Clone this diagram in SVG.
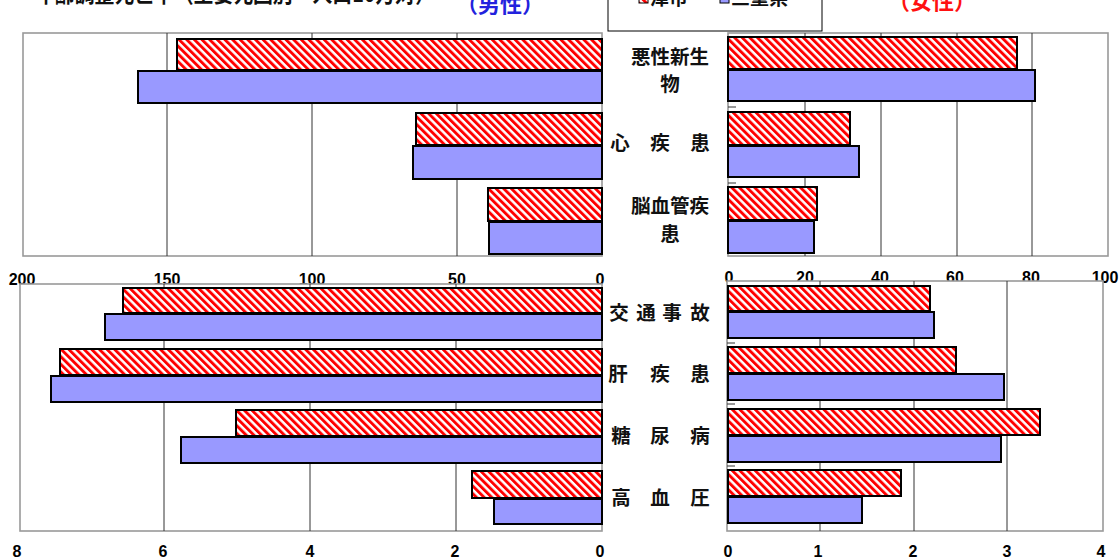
<svg xmlns="http://www.w3.org/2000/svg" width="1120" height="560" viewBox="0 0 1120 560">
<defs>
<pattern id="hatch" patternUnits="userSpaceOnUse" width="5.4" height="5.4" patternTransform="rotate(-45)">
<rect width="5.4" height="5.4" fill="#ffffff"/>
<rect width="2.9" height="5.4" fill="#ff0000"/>
</pattern>
</defs>
<style>
.frame{fill:#ffffff;stroke:#999999;stroke-width:1.6}
.grid{stroke:#333333;stroke-width:1}
.tick{stroke:#333333;stroke-width:1}
.red{fill:url(#hatch);stroke:#000000;stroke-width:2}
.blue{fill:#9999ff;stroke:#000000;stroke-width:2}
.num{font-family:"Liberation Sans",Arial,sans-serif;font-weight:bold;font-size:16px;fill:#000000;text-anchor:middle}
.cat{font-family:"Noto Sans CJK JP","Noto Sans CJK SC",sans-serif;font-weight:bold;font-size:19.5px;fill:#111111;text-anchor:middle}
.lg{font-family:"Noto Sans CJK JP",sans-serif;font-weight:bold;font-size:19px;fill:#111111}
</style>

<g id="title">
<text x="35" y="2" font-family="Noto Sans CJK JP, sans-serif" font-weight="bold" font-size="24" fill="#111111" textLength="400" lengthAdjust="spacingAndGlyphs">年齢調整死亡率（主要死因別・人口10万対）</text>
<text x="456" y="12" font-family="Noto Sans CJK JP, sans-serif" font-weight="bold" font-size="22" fill="#2222dd">（男性）</text>
<text x="888" y="9" font-family="Noto Sans CJK JP, sans-serif" font-weight="bold" font-size="22" fill="#ff1111">（女性）</text>
</g>

<g id="legend">
<rect x="608" y="-30" width="214" height="61" fill="#ffffff" stroke="#000000" stroke-width="1"/>
<rect x="639" y="-6" width="9" height="9" fill="url(#hatch)" stroke="#000" stroke-width="1"/>
<text class="lg" x="650" y="5">津市</text>
<rect x="720" y="-6" width="9" height="9" fill="#9999ff" stroke="#000" stroke-width="1"/>
<text class="lg" x="731" y="5">三重県</text>
</g>

<g id="chart-top-left">
<rect class="frame" x="23" y="33" width="579" height="223"/>
<line class="grid" x1="167" y1="33" x2="167" y2="256"/>
<line class="grid" x1="312" y1="33" x2="312" y2="256"/>
<line class="grid" x1="457" y1="33" x2="457" y2="256"/>
<rect class="red" x="177" y="39" width="425" height="31"/>
<rect class="blue" x="138" y="71" width="464" height="32"/>
<rect class="red" x="416" y="113" width="186" height="32"/>
<rect class="blue" x="413" y="146" width="189" height="33"/>
<rect class="red" x="488" y="188" width="114" height="33"/>
<rect class="blue" x="489" y="222" width="113" height="32"/>
<text class="num" x="22" y="285">200</text>
<text class="num" x="167" y="285">150</text>
<text class="num" x="312" y="285">100</text>
<text class="num" x="457" y="285">50</text>
<text class="num" x="600" y="285">0</text>
</g>

<g id="chart-top-right">
<rect class="frame" x="728" y="33" width="380" height="223"/>
<line class="grid" x1="805" y1="33" x2="805" y2="256"/>
<line class="grid" x1="881" y1="33" x2="881" y2="256"/>
<line class="grid" x1="957" y1="33" x2="957" y2="256"/>
<line class="grid" x1="1032" y1="33" x2="1032" y2="256"/>
<line class="tick" x1="728" y1="107" x2="736" y2="107"/>
<line class="tick" x1="728" y1="183" x2="736" y2="183"/>
<rect class="red" x="728" y="37" width="289" height="32"/>
<rect class="blue" x="728" y="70" width="307" height="31"/>
<rect class="red" x="728" y="112" width="122" height="33"/>
<rect class="blue" x="728" y="146" width="131" height="31"/>
<rect class="red" x="728" y="187" width="89" height="33"/>
<rect class="blue" x="728" y="221" width="86" height="32"/>
<text class="num" x="729" y="283">0</text>
<text class="num" x="805" y="283">20</text>
<text class="num" x="880" y="283">40</text>
<text class="num" x="955" y="283">60</text>
<text class="num" x="1031" y="283">80</text>
<text class="num" x="1105" y="283">100</text>
</g>

<g id="chart-bottom-left">
<rect class="frame" x="20" y="284" width="582" height="247"/>
<line class="grid" x1="164" y1="284" x2="164" y2="531"/>
<line class="grid" x1="310" y1="284" x2="310" y2="531"/>
<line class="grid" x1="456" y1="284" x2="456" y2="531"/>
<rect class="red" x="123" y="288" width="479" height="25"/>
<rect class="blue" x="105" y="314" width="497" height="26"/>
<rect class="red" x="60" y="349" width="542" height="26"/>
<rect class="blue" x="51" y="376" width="551" height="26"/>
<rect class="red" x="236" y="410" width="366" height="26"/>
<rect class="blue" x="181" y="437" width="421" height="26"/>
<rect class="red" x="472" y="471" width="130" height="27"/>
<rect class="blue" x="494" y="499" width="108" height="25"/>
<text class="num" x="17" y="557">8</text>
<text class="num" x="163" y="557">6</text>
<text class="num" x="310" y="557">4</text>
<text class="num" x="455" y="557">2</text>
<text class="num" x="600" y="557">0</text>
</g>

<g id="chart-bottom-right">
<rect class="frame" x="727" y="281" width="376" height="250"/>
<line class="grid" x1="820" y1="281" x2="820" y2="531"/>
<line class="grid" x1="914" y1="281" x2="914" y2="531"/>
<line class="grid" x1="1007" y1="281" x2="1007" y2="531"/>
<line class="tick" x1="727" y1="343" x2="735" y2="343"/>
<line class="tick" x1="727" y1="404" x2="735" y2="404"/>
<line class="tick" x1="727" y1="466" x2="735" y2="466"/>
<rect class="red" x="728" y="286" width="202" height="25"/>
<rect class="blue" x="728" y="312" width="206" height="26"/>
<rect class="red" x="728" y="347" width="228" height="26"/>
<rect class="blue" x="728" y="374" width="276" height="26"/>
<rect class="red" x="728" y="409" width="312" height="26"/>
<rect class="blue" x="728" y="436" width="273" height="26"/>
<rect class="red" x="728" y="470" width="173" height="26"/>
<rect class="blue" x="728" y="497" width="134" height="26"/>
<text class="num" x="728" y="557">0</text>
<text class="num" x="818" y="557">1</text>
<text class="num" x="913" y="557">2</text>
<text class="num" x="1007" y="557">3</text>
<text class="num" x="1101" y="557">4</text>
</g>

<g id="categories">
<text class="cat" x="670" y="64">悪性新生</text>
<text class="cat" x="670" y="91">物</text>
<text class="cat" y="150"><tspan x="620">心</tspan><tspan x="660">疾</tspan><tspan x="700">患</tspan></text>
<text class="cat" x="670" y="213">脳血管疾</text>
<text class="cat" x="670" y="241">患</text>
<text class="cat" y="320"><tspan x="619">交</tspan><tspan x="646">通</tspan><tspan x="672">事</tspan><tspan x="700">故</tspan></text>
<text class="cat" y="381"><tspan x="618">肝</tspan><tspan x="660">疾</tspan><tspan x="700">患</tspan></text>
<text class="cat" y="443"><tspan x="621">糖</tspan><tspan x="660">尿</tspan><tspan x="700">病</tspan></text>
<text class="cat" y="505"><tspan x="621">高</tspan><tspan x="660">血</tspan><tspan x="700">圧</tspan></text>
</g>
</svg>
